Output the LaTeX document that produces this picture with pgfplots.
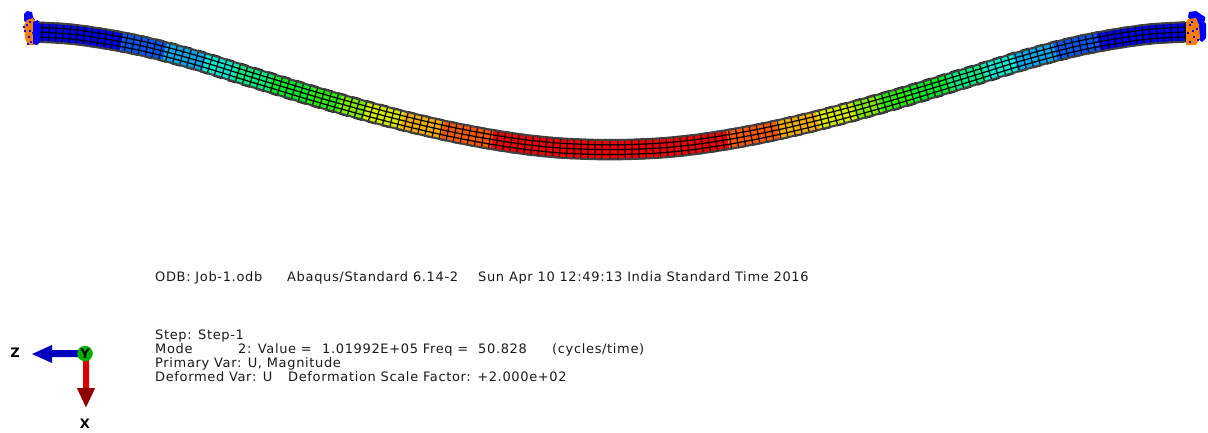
\documentclass[border=0pt]{standalone}
\usepackage{pgfplots}
\usepackage{pgfplotstable}
\usepackage{fontspec}
\setmainfont{DejaVu Sans}
\newfontfamily\lblfont[LetterSpace=5]{DejaVu Sans}
\pgfplotsset{compat=1.18}
\definecolor{b1}{RGB}{0,0,235}
\definecolor{b2}{RGB}{0,85,235}
\definecolor{b3}{RGB}{0,165,230}
\definecolor{b4}{RGB}{0,232,210}
\definecolor{b5}{RGB}{0,232,125}
\definecolor{b6}{RGB}{0,232,40}
\definecolor{b7}{RGB}{42,232,0}
\definecolor{b8}{RGB}{125,232,0}
\definecolor{b9}{RGB}{212,232,0}
\definecolor{b10}{RGB}{240,170,0}
\definecolor{b11}{RGB}{245,88,0}
\definecolor{b12}{RGB}{240,0,0}
\definecolor{capo}{RGB}{255,125,0}
\definecolor{capb}{RGB}{0,0,255}
\definecolor{txt}{RGB}{25,25,25}
\pgfplotstableread{
x a b m d e
35 22.3 27.2 32 36.9 41.7
70 24.3 29.2 34 38.9 43.7
105 29.2 34.1 38.9 43.8 48.6
140 35.8 40.7 45.5 50.4 55.2
175 44.5 49.4 54.2 59.1 63.9
210 54.5 59.4 64.2 69.1 73.9
245 65.5 70.4 75.2 80.1 84.9
280 76.2 81.1 85.9 90.8 95.6
315 86.8 91.7 96.5 101.4 106.2
350 96.8 101.7 106.5 111.4 116.2
385 106.3 111.2 116 120.9 125.7
420 115.1 120 124.8 129.7 134.5
455 122.9 127.8 132.6 137.5 142.3
490 129.5 134.4 139.2 144.1 148.9
525 134.8 139.7 144.5 149.4 154.2
560 138.3 143.2 148 152.9 157.7
595 139.8 144.7 149.5 154.4 159.2
610 139.9 144.8 149.6 154.5 159.3
625 139.8 144.7 149.5 154.4 159.2
660 138.3 143.2 148 152.9 157.7
695 134.8 139.7 144.5 149.4 154.2
730 129.5 134.4 139.2 144.1 148.9
765 122.9 127.8 132.6 137.5 142.3
800 115.1 120 124.8 129.7 134.5
835 106.3 111.2 116 120.9 125.7
870 96.8 101.7 106.5 111.4 116.2
905 86.8 91.7 96.5 101.4 106.2
940 76.2 81.1 85.9 90.8 95.6
975 65.5 70.4 75.2 80.1 84.9
1010 54.5 59.4 64.2 69.1 73.9
1045 44.5 49.4 54.2 59.1 63.9
1080 35.8 40.7 45.5 50.4 55.2
1115 29.2 34.1 38.9 43.8 48.6
1150 24.3 29.2 34 38.9 43.7
1185 22.3 27.2 32 36.9 41.7
}\stations
\newcommand{\lbl}[3]{\node[anchor=base west,inner sep=0pt,text=txt,font=\lblfont\fontsize{13}{14}\selectfont] at (axis cs:#1,#2) {#3};}
\begin{document}
\begin{tikzpicture}
\path[use as bounding box] (0,0) rectangle (1208pt,432pt);
\begin{axis}[at={(0,0)},anchor=south west,scale only axis,width=1208pt,height=432pt,
  xmin=0,xmax=1208,ymin=0,ymax=432,y dir=reverse,hide axis,clip=false,
  every axis plot/.append style={forget plot},
  after end axis/.append code={
    \node[anchor=base,inner sep=0pt,font=\bfseries\fontsize{13}{14}\selectfont] at (axis cs:85,358) {Y};
  }]
% colour bands, left half
\addplot[fill=b1,draw=none] coordinates {(34,22)(60,23.2)(90,26.4)(124,32)(120,51.4)(90,46.4)(60,43.2)(34,42)} -- cycle;
\addplot[fill=b2,draw=none] coordinates {(124,32)(167.6,41.8)(162.4,61.2)(120,51.4)} -- cycle;
\addplot[fill=b3,draw=none] coordinates {(167.6,41.8)(207.6,52.9)(202.4,72.3)(162.4,61.2)} -- cycle;
\addplot[fill=b4,draw=none] coordinates {(207.6,52.9)(237.9,62.4)(232.1,81.8)(202.4,72.3)} -- cycle;
\addplot[fill=b5,draw=none] coordinates {(237.9,62.4)(272.9,73.1)(267.1,92.5)(232.1,81.8)} -- cycle;
\addplot[fill=b6,draw=none] coordinates {(272.9,73.1)(312.9,85.3)(307.1,104.7)(267.1,92.5)} -- cycle;
\addplot[fill=b7,draw=none] coordinates {(312.9,85.3)(342.9,94)(337.1,113.4)(307.1,104.7)} -- cycle;
\addplot[fill=b8,draw=none] coordinates {(342.9,94)(368.9,101.3)(363.1,120.7)(337.1,113.4)} -- cycle;
\addplot[fill=b9,draw=none] coordinates {(368.9,101.3)(404.4,110.7)(399.6,130.1)(363.1,120.7)} -- cycle;
\addplot[fill=b10,draw=none] coordinates {(404.4,110.7)(444,120.1)(440,139.5)(399.6,130.1)} -- cycle;
\addplot[fill=b11,draw=none] coordinates {(444,120.1)(493.6,129.8)(490.4,149.2)(440,139.5)} -- cycle;
\addplot[fill=b12,draw=none] coordinates {(493.6,129.8)(520,134.2)(550,137.6)(580,139.5)(610,139.9)(640,139.5)(670,137.6)(700,134.2)(726.4,129.8)(729.6,149.2)(700,153.6)(670,157)(640,158.9)(610,159.3)(580,158.9)(550,157)(520,153.6)(490.4,149.2)} -- cycle;
% colour bands, right half
\addplot[fill=b11,draw=none] coordinates {(776,120.1)(726.4,129.8)(729.6,149.2)(780,139.5)} -- cycle;
\addplot[fill=b10,draw=none] coordinates {(815.6,110.7)(776,120.1)(780,139.5)(820.4,130.1)} -- cycle;
\addplot[fill=b9,draw=none] coordinates {(851.1,101.3)(815.6,110.7)(820.4,130.1)(856.9,120.7)} -- cycle;
\addplot[fill=b8,draw=none] coordinates {(877.1,94)(851.1,101.3)(856.9,120.7)(882.9,113.4)} -- cycle;
\addplot[fill=b7,draw=none] coordinates {(907.1,85.3)(877.1,94)(882.9,113.4)(912.9,104.7)} -- cycle;
\addplot[fill=b6,draw=none] coordinates {(947.1,73.1)(907.1,85.3)(912.9,104.7)(952.9,92.5)} -- cycle;
\addplot[fill=b5,draw=none] coordinates {(982.1,62.4)(947.1,73.1)(952.9,92.5)(987.9,81.8)} -- cycle;
\addplot[fill=b4,draw=none] coordinates {(1012.4,52.9)(982.1,62.4)(987.9,81.8)(1017.6,72.3)} -- cycle;
\addplot[fill=b3,draw=none] coordinates {(1052.4,41.8)(1012.4,52.9)(1017.6,72.3)(1057.6,61.2)} -- cycle;
\addplot[fill=b2,draw=none] coordinates {(1096,32)(1052.4,41.8)(1057.6,61.2)(1100,51.4)} -- cycle;
\addplot[fill=b1,draw=none] coordinates {(1190,22)(1160,23.2)(1130,26.4)(1096,32)(1100,51.4)(1130,46.4)(1160,43.2)(1190,42)} -- cycle;
% mesh, cross lines
\addplot[black,line width=1.2pt,no markers] coordinates {
(35.5,22.3)(34.5,41.7)(41.5,41.9)(42.5,22.5)(49.5,22.8)(48.5,42.2)(55.5,42.6)(56.5,23.2)
(64,23.7)(62,43.1)(69,43.7)(71,24.3)(78,25)(76,44.4)(83,45.3)(85,25.9)
(92.5,26.9)(89.5,46.3)(96.5,47.4)(99.5,28)(106.5,29.2)(103.5,48.6)(110.5,49.7)(113.5,30.3)
(121,31.6)(117,51)(124,52.4)(128,33)(135,34.4)(131,53.8)(138,55.2)(142,35.8)(149,37.4)(145,56.8)
(151.4,58.5)(156.6,39.1)(163.6,40.8)(158.4,60.2)(165.4,62)(170.6,42.6)(177.6,44.5)(172.4,63.9)
(179.4,65.8)(184.6,46.4)(191.6,48.3)(186.4,67.7)(193.4,69.7)(198.6,50.3)(205.6,52.3)(200.4,71.7)
(207.1,73.9)(212.9,54.5)(219.9,56.7)(214.1,76.1)(221.1,78.4)(226.9,59)(233.9,61.2)(228.1,80.6)
(235.1,82.7)(240.9,63.3)(247.9,65.5)(242.1,84.9)(249.1,87)(254.9,67.6)(261.9,69.7)(256.1,89.1)
(263.1,91.2)(268.9,71.8)(275.9,74)(270.1,93.4)(277.1,95.6)(282.9,76.2)(289.9,78.3)(284.1,97.7)
(291.1,99.9)(296.9,80.5)(303.9,82.6)(298.1,102)(305.1,104.1)(310.9,84.7)(317.9,86.8)(312.1,106.2)
(319.1,108.3)(324.9,88.9)(331.9,90.9)(326.1,110.3)(333.1,112.3)(338.9,92.9)(345.9,94.8)(340.1,114.2)
(347.1,116.2)(352.9,96.8)(359.9,98.7)(354.1,118.1)(361.1,120.1)(366.9,100.7)(373.9,102.6)(368.1,122)
(375.1,123.8)(380.9,104.4)(387.9,106.3)(382.1,125.7)(389.6,127.6)(394.4,108.2)(401.4,110)(396.6,129.4)
(403.6,131.1)(408.4,111.7)(415.4,113.4)(410.6,132.8)(417.6,134.5)(422.4,115.1)(429.4,116.7)(424.6,136.1)
(432,137.7)(436,118.3)(443,119.9)(439,139.3)(446,140.8)(450,121.4)(457,122.9)(453,142.3)
(460,143.7)(464,124.3)(471,125.7)(467,145.1)(474.4,146.4)(477.6,127)(484.6,128.3)(481.4,147.7)
(488.4,148.9)(491.6,129.5)(498.6,130.7)(495.4,150.1)(502.4,151.2)(505.6,131.8)(512.6,132.9)(509.4,152.3)
(516.8,153.3)(519.2,133.9)(526.2,134.8)(523.8,154.2)(530.8,155.1)(533.2,135.7)(540.2,136.5)(537.8,155.9)
(545.3,156.6)(546.7,137.2)(553.7,137.8)(552.3,157.2)(559.3,157.7)(560.7,138.3)(567.7,138.8)(566.3,158.2)
(573.8,158.6)(574.2,139.2)(581.2,139.5)(580.8,158.9)(587.8,159.1)(588.2,139.7)(595.2,139.8)(594.8,159.2)
(601.8,159.3)(602.2,139.9)(610,139.9)(610,159.3)
(618.2,159.3)(617.8,139.9)(624.8,139.8)(625.2,159.2)(632.2,159.1)(631.8,139.7)(638.8,139.5)(639.2,158.9)
(646.2,158.6)(645.8,139.2)(652.3,138.8)(653.7,158.2)(660.7,157.7)(659.3,138.3)(666.3,137.8)(667.7,157.2)
(674.7,156.6)(673.3,137.2)(679.8,136.5)(682.2,155.9)(689.2,155.1)(686.8,135.7)(693.8,134.8)(696.2,154.2)
(703.2,153.3)(700.8,133.9)(707.4,132.9)(710.6,152.3)(717.6,151.2)(714.4,131.8)(721.4,130.7)(724.6,150.1)
(731.6,148.9)(728.4,129.5)(735.4,128.3)(738.6,147.7)(745.6,146.4)(742.4,127)(749,125.7)(753,145.1)
(760,143.7)(756,124.3)(763,122.9)(767,142.3)(774,140.8)(770,121.4)(777,119.9)(781,139.3)
(788,137.7)(784,118.3)(790.6,116.7)(795.4,136.1)(802.4,134.5)(797.6,115.1)(804.6,113.4)(809.4,132.8)
(816.4,131.1)(811.6,111.7)(818.6,110)(823.4,129.4)(830.4,127.6)(825.6,108.2)(832.1,106.3)(837.9,125.7)
(844.9,123.8)(839.1,104.4)(846.1,102.6)(851.9,122)(858.9,120.1)(853.1,100.7)(860.1,98.7)(865.9,118.1)
(872.9,116.2)(867.1,96.8)(874.1,94.8)(879.9,114.2)(886.9,112.3)(881.1,92.9)(888.1,90.9)(893.9,110.3)
(900.9,108.3)(895.1,88.9)(902.1,86.8)(907.9,106.2)(914.9,104.1)(909.1,84.7)(916.1,82.6)(921.9,102)
(928.9,99.9)(923.1,80.5)(930.1,78.3)(935.9,97.7)(942.9,95.6)(937.1,76.2)(944.1,74)(949.9,93.4)
(956.9,91.2)(951.1,71.8)(958.1,69.7)(963.9,89.1)(970.9,87)(965.1,67.6)(972.1,65.5)(977.9,84.9)
(984.9,82.7)(979.1,63.3)(986.1,61.2)(991.9,80.6)(998.9,78.4)(993.1,59)(1000.1,56.7)(1005.9,76.1)
(1012.9,73.9)(1007.1,54.5)(1014.4,52.3)(1019.6,71.7)(1026.6,69.7)(1021.4,50.3)(1028.4,48.3)(1033.6,67.7)
(1040.6,65.8)(1035.4,46.4)(1042.4,44.5)(1047.6,63.9)(1054.6,62)(1049.4,42.6)(1056.4,40.8)(1061.6,60.2)
(1068.6,58.5)(1063.4,39.1)(1071,37.4)(1075,56.8)(1082,55.2)(1078,35.8)(1085,34.4)(1089,53.8)
(1096,52.4)(1092,33)(1099,31.6)(1103,51)(1109.5,49.7)(1106.5,30.3)(1113.5,29.2)(1116.5,48.6)
(1123.5,47.4)(1120.5,28)(1127.5,26.9)(1130.5,46.3)(1137,45.3)(1135,25.9)(1142,25)(1144,44.4)
(1151,43.7)(1149,24.3)(1156,23.7)(1158,43.1)(1164.5,42.6)(1163.5,23.2)(1170.5,22.8)(1171.5,42.2)
(1178.5,41.9)(1177.5,22.5)(1184.5,22.3)(1185.5,41.7)
};
% mesh, long lines
\addplot[black,line width=1.2pt,no markers,smooth] table[x=x,y=b] {\stations};
\addplot[black,line width=1.2pt,no markers,smooth] table[x=x,y=m] {\stations};
\addplot[black,line width=1.2pt,no markers,smooth] table[x=x,y=d] {\stations};
\addplot[black!75,line width=2pt,no markers,smooth] table[x=x,y=a] {\stations};
\addplot[black!75,line width=2pt,no markers,smooth] table[x=x,y=e] {\stations};
% end caps, left
\addplot[fill=capb,draw=none] coordinates {(24,21)(24,14)(27,11)(32,12)(33,17)(35,20)(30,24)} -- cycle;
\addplot[fill=capo,draw=none] coordinates {(24,25)(27,20)(33,18)(35,22)(35,45)(28,45)(25,38)} -- cycle;
\addplot[fill=capb,draw=none] coordinates {(33,22)(38,20)(40,24)(40,42)(37,45)(33,44)} -- cycle;
\addplot[only marks,mark=square*,mark size=0.6pt,color=capb] coordinates {(27,25)(30,31)(25,31)(29,37)(31,42)(33,33)(30,22)(28,44)(24,27)};
% end caps, right
\addplot[fill=capb,draw=none] coordinates {(1205,21)(1205,17)(1196,11)(1189,12)(1188,17)(1194,24)} -- cycle;
\addplot[fill=capb,draw=none] coordinates {(1197,22)(1203,20)(1206,24)(1206,38)(1202,42)(1197,38)} -- cycle;
\addplot[fill=capo,draw=none] coordinates {(1199,25)(1196,18)(1188,19)(1186,22)(1186,45)(1196,45)(1200,38)} -- cycle;
\addplot[only marks,mark=square*,mark size=0.6pt,color=capb] coordinates {(1190,25)(1193,31)(1188,33)(1194,37)(1190,42)(1198,40)(1197,29)(1192,22)};
% triad
\addplot[fill=b1!80!black,draw=none] coordinates {(80,350)(52,350)(52,345)(32,354)(52,363)(52,357)(80,357)} -- cycle;
\addplot[fill=red!85!black,draw=none] coordinates {(83,360)(89,360)(89,388)(95,388)(86,407)(77,388)(83,388)} -- cycle;
\addplot[fill=red!55!black,draw=none] coordinates {(77,388)(95,388)(86,407)} -- cycle;
\addplot[only marks,mark=*,mark size=7.5pt,color=green!70!black,mark options={draw=none}] coordinates {(85,353.5)};
\node[anchor=base,inner sep=0pt,font=\bfseries\fontsize{13}{14}\selectfont] at (axis cs:15,357) {Z};
\node[anchor=base,inner sep=0pt,font=\bfseries\fontsize{13}{14}\selectfont] at (axis cs:85,428) {X};
% text
\lbl{155}{281}{ODB: Job-1.odb}
\lbl{287}{281}{Abaqus/Standard 6.14-2}
\lbl{478}{281}{Sun Apr 10 12:49:13 India Standard Time 2016}
\lbl{155}{339}{Step: Step-1}
\lbl{155}{353}{Mode}
\lbl{238}{353}{2: Value =}
\lbl{322}{353}{1.01992E+05 Freq =}
\lbl{478}{353}{50.828}
\lbl{552}{353}{(cycles/time)}
\lbl{155}{367}{Primary Var: U, Magnitude}
\lbl{155}{381}{Deformed Var: U}
\lbl{288}{381}{Deformation Scale Factor: +2.000e+02}
\end{axis}
\end{tikzpicture}
\end{document}
